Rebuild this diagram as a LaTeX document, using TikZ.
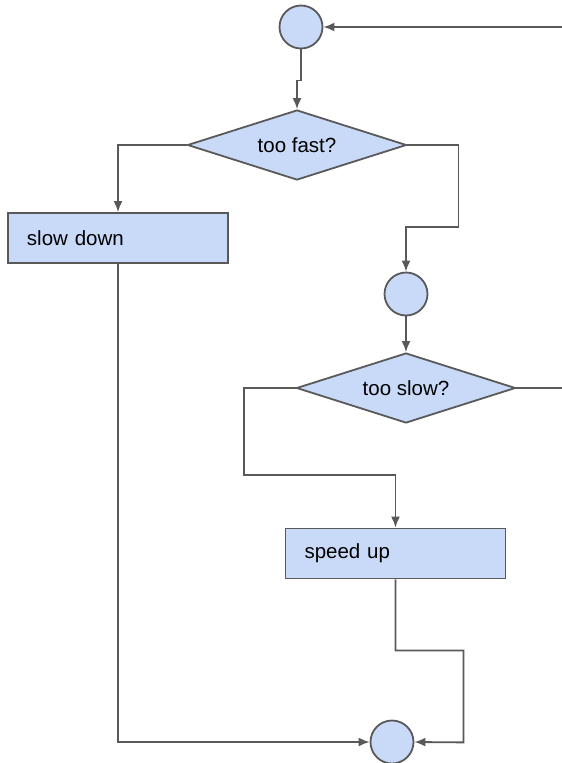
\documentclass[tikz,border=0pt]{standalone}
\usepackage{fontspec}
\setmainfont{Liberation Sans}
\usepackage{tikz}
\usetikzlibrary{arrows.meta,shapes.geometric}
\definecolor{boxfill}{HTML}{C9DAF8}
\definecolor{edge}{HTML}{595959}

\begin{document}
\begin{tikzpicture}[x=1pt,y=-1pt,
  base/.style={draw=edge, line width=1.8pt, fill=boxfill, inner sep=0pt, font=\fontsize{20.5}{24}\selectfont},
  junction/.style={base, circle, minimum size=43pt},
  test/.style={base, diamond, aspect=3.2, minimum width=219pt, minimum height=70pt},
  action/.style={base, rectangle, minimum height=50pt, inner xsep=19pt, text width=182pt, align=left},
  arc/.style={-{Latex[length=11pt,width=9pt]}, edge, line width=1.8pt},
  line/.style={edge, line width=1.8pt}]
  \useasboundingbox (0,0) rectangle (562,763);
  % shapes
  \node[junction] (c1) at (301,27) {};
  \node[test] (fast) at (297,145) {too fast?};
  \node[action] (slow) at (118,238) {slow down};
  \node[junction] (c2) at (406,294) {};
  \node[test] (tooslow) at (406,388) {too slow?};
  \node[action] (speed) at (395.5,553.5) {speed up};
  \node[junction] (c3) at (392,742) {};
  \coordinate (in) at (562,27);
  \coordinate (out) at (562,388);
  % connectors
  \draw[arc] (in) -- (c1);
  \draw[arc] (c1.south) -- ++(0,31) -| (fast.north);
  \draw[arc] (fast.west) -| (slow.north);
  \draw[arc] (fast.east) -| ++(51,82) -| (c2.north);
  \draw[arc] (c2) -- (tooslow);
  \draw[line] (tooslow.east) -- (out);
  \draw[arc] (tooslow.west) -| ++(-52,87) -| (speed.north);
  \draw[arc] (speed.south) -- ++(0,71) -| ++(68,92) -- (c3.east);
  \draw[arc] (slow.south) |- (c3.west);
\end{tikzpicture}
\end{document}
